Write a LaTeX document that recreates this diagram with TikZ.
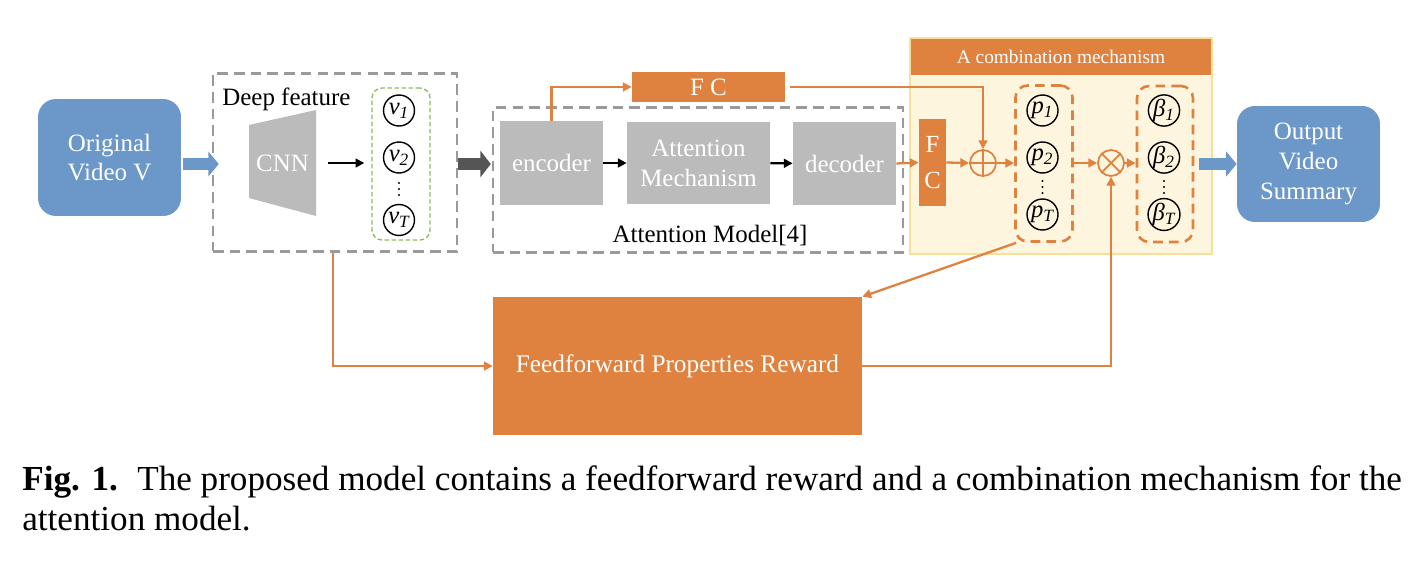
\documentclass[tikz,border=0pt]{standalone}
\usepackage{fontspec}
\setmainfont{Liberation Serif}
\usetikzlibrary{arrows.meta}
\definecolor{vblue}{HTML}{6C98C9}
\definecolor{vorange}{HTML}{E0823F}
\definecolor{vgray}{HTML}{BBBBBB}
\definecolor{vdash}{HTML}{9A9A9A}
\definecolor{vgreen}{HTML}{8DBE5A}
\definecolor{vcream}{HTML}{FEF5DF}
\definecolor{vyellow}{HTML}{F9E098}
\definecolor{vdark}{HTML}{555555}
\begin{document}
\begin{tikzpicture}[x=0.02cm,y=-0.02cm,
  every node/.style={font=\fontsize{14.2}{17}\selectfont, inner sep=0pt, align=center},
  bluebox/.style={fill=vblue, rounded corners=0.36cm, text=white},
  graybox/.style={fill=vgray, text=white},
  orangebox/.style={fill=vorange, text=white},
  groupbox/.style={draw=vdash, dash pattern=on 6pt off 3.5pt, line width=1.4pt},
  obox/.style={draw=vorange, dash pattern=on 5.5pt off 3.5pt, line width=1.5pt, rounded corners=0.24cm},
  circ/.style={draw, circle, line width=0.8pt, minimum size=0.62cm, font=\fontsize{14}{16}\selectfont\itshape},
  oarr/.style={draw=vorange, line width=1.3pt, -{Triangle[length=5pt,width=5pt]}},
  karr/.style={draw=black, line width=1.2pt, -{Triangle[length=5pt,width=5pt]}},
  barr/.style={draw=vblue, line width=6.8pt, -{Triangle[length=6pt,width=14pt]}},
  darr/.style={draw=vdark, line width=7pt, -{Triangle[length=6pt,width=15pt]}}]

\useasboundingbox (0,0) rectangle (1424,568);
\fill[white] (0,0) rectangle (1424,568);

\node[bluebox, minimum width=2.86cm, minimum height=2.34cm] (orig) at (109.5,157.5) {Original\\Video V};

\node[groupbox, minimum width=4.88cm, minimum height=3.56cm] (deep) at (335,162.5) {};
\node[anchor=north west] (deeplbl) at (222,88) {Deep feature};
\fill[vgray] (249,125) -- (316,110) -- (316,216) -- (249,198) -- cycle;
\node[text=white, minimum width=1.34cm, minimum height=2.12cm] (cnn) at (282.5,163) {CNN};
\node[draw=vgreen, dash pattern=on 2.5pt off 1.5pt, line width=0.8pt, rounded corners=0.2cm, minimum width=1.16cm, minimum height=3.04cm] (vbox) at (401,164) {};
\node[circ] (v1) at (399,110.5) {v\textsubscript{1}};
\node[circ] (v2) at (399,157.5) {v\textsubscript{2}};
\node[circ] (vT) at (399,220) {v\textsubscript{T}};

\node[groupbox, minimum width=8.2cm, minimum height=2.9cm] (att) at (698,180) {};
\node[graybox, minimum width=2.06cm, minimum height=1.68cm] (enc) at (551.5,163) {encoder};
\node[graybox, minimum width=2.86cm, minimum height=1.64cm] (mech) at (698.5,163) {Attention\\Mechanism};
\node[graybox, minimum width=2.06cm, minimum height=1.66cm] (dec) at (844.5,163.5) {decoder};
\node (attlbl) at (710,236) {Attention Model[4]};
\node[orangebox, minimum width=3.06cm, minimum height=0.62cm] (fctop) at (708.5,87) {F C};

\node[fill=vcream, draw=vyellow, line width=1.6pt, minimum width=6.04cm, minimum height=4.32cm] (comb) at (1061,146) {};
\node[orangebox, minimum width=6cm, minimum height=0.72cm, font=\fontsize{11}{13}\selectfont] (head) at (1061,57) {A combination mechanism};
\node[orangebox, minimum width=0.54cm, minimum height=1.76cm, font=\fontsize{14}{20}\selectfont] (fc) at (932.5,162.5) {F\\C};
\node[draw=vorange, circle, line width=1pt, minimum size=0.52cm] (oplus) at (983,163) {};
\draw[vorange, line width=1pt] (oplus.north) -- (oplus.south) (oplus.west) -- (oplus.east);
\node[obox, minimum width=1.14cm, minimum height=3.12cm] (pbox) at (1044,163.5) {};
\node[circ] (p1) at (1042.5,110.5) {p\textsubscript{1}};
\node[circ] (p2) at (1042.5,157.5) {p\textsubscript{2}};
\node[circ] (pT) at (1042.5,214.5) {p\textsubscript{T}};
\node[draw=vorange, circle, line width=1pt, minimum size=0.52cm] (otimes) at (1111,163) {};
\draw[vorange, line width=1pt] (otimes.north west) -- (otimes.south east) (otimes.north east) -- (otimes.south west);
\node[obox, minimum width=1.12cm, minimum height=3.12cm] (bbox) at (1165,164) {};
\node[circ] (b1) at (1164,110.5) {β\textsubscript{1}};
\node[circ] (b2) at (1164,157.5) {β\textsubscript{2}};
\node[circ] (bT) at (1164,214.5) {β\textsubscript{T}};
\foreach \x/\y in {399/189, 1042.5/187, 1164/187}
  \foreach \d in {-6,0,6}
    \fill (\x,\y+\d) circle (0.022cm);

\node[bluebox, minimum width=2.86cm, minimum height=2.32cm] (out) at (1308.5,164) {Output\\Video\\Summary};
\node[orangebox, minimum width=7.38cm, minimum height=2.76cm, font=\fontsize{14.4}{17}\selectfont] (ffr) at (677.5,366) {Feedforward Properties Reward};

\draw[barr] ([xshift=0.04cm]orig.east |- vbox) -- ([xshift=0.14cm]deep.west |- vbox);
\draw[karr] ([xshift=0.24cm]cnn.east) -- ([xshift=-0.14cm]vbox.west |- cnn);
\draw[darr] (deep.east |- vbox) -- ([xshift=-0.02cm]att.west |- vbox);
\draw[karr] (enc) -- (mech);
\draw[karr] (mech) -- (dec);
\draw[oarr] (enc.north) |- (fctop.west);
\draw[oarr, shorten <=0.1cm] (fctop.east) -| (oplus.north);
\draw[oarr] (dec.east) -- (fc.west);
\draw[oarr] (fc.east) -- (oplus.west);
\draw[oarr] (oplus.east) -- (pbox.west |- oplus);
\draw[oarr] (pbox.east |- otimes) -- (otimes.west);
\draw[oarr] (otimes.east) -- (bbox.west |- otimes);
\draw[barr] ([xshift=0.1cm]bbox.east) -- (out.west);
\draw[oarr] ([xshift=-0.04cm]deep.south) |- (ffr.west);
\draw[oarr] (ffr.east) -| (otimes.south);
\draw[oarr] ([xshift=0.04cm]pbox.south west) -- (ffr.north east);

\node[anchor=base west, font=\fontsize{20}{24}\selectfont] (cap1) at (22,490) {\textbf{Fig. 1.}\hspace{0.55em}The proposed model contains a feedforward reward and a combination mechanism for the};
\node[anchor=base west, font=\fontsize{20}{24}\selectfont] (cap2) at (22,530) {attention model.};
\end{tikzpicture}
\end{document}
